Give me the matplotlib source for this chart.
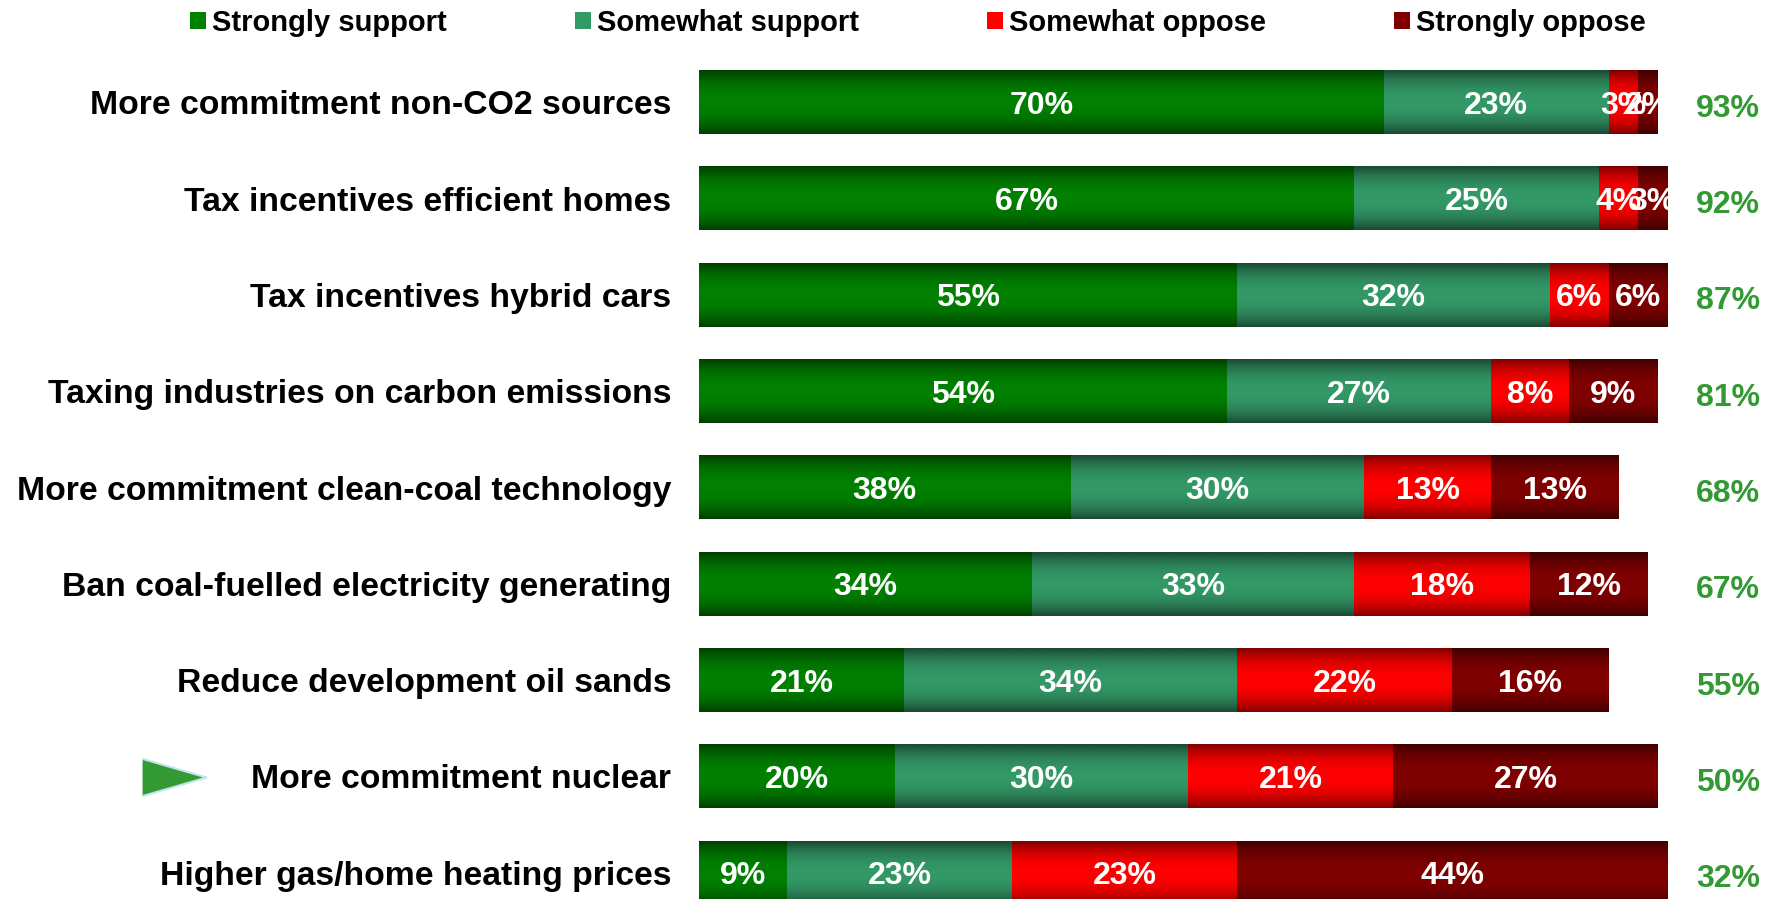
import numpy as np
import matplotlib
matplotlib.use('Agg')
import matplotlib.pyplot as plt
from matplotlib import colors as mcolors
from matplotlib.transforms import blended_transform_factory

plt.rcParams['font.family'] = ['Liberation Sans', 'DejaVu Sans']
plt.rcParams['font.weight'] = 'bold'

categories = ['More commitment non-CO2 sources', 'Tax incentives efficient homes',
              'Tax incentives hybrid cars', 'Taxing industries on carbon emissions',
              'More commitment clean-coal technology', 'Ban coal-fuelled electricity generating',
              'Reduce development oil sands', 'More commitment nuclear',
              'Higher gas/home heating prices']
series = ['Strongly support', 'Somewhat support', 'Somewhat oppose', 'Strongly oppose']
strongly_support = [70, 67, 55, 54, 38, 34, 21, 20, 9]
somewhat_support = [23, 25, 32, 27, 30, 33, 34, 30, 23]
somewhat_oppose = [3, 4, 6, 8, 13, 18, 22, 21, 23]
strongly_oppose = [2, 3, 6, 9, 13, 12, 16, 27, 44]
total_support = [93, 92, 87, 81, 68, 67, 55, 50, 32]
highlight = 'More commitment nuclear'

# (bright centre, dark edge) for each series
shades = [('#008000', '#004000'), ('#339966', '#1a4a33'),
          ('#ff0000', '#800000'), ('#800000', '#400000')]

fig = plt.figure(figsize=(17.83, 8.99), dpi=100)
ax = fig.add_axes([699 / 1783, -22 / 899, 978 / 1783, 867 / 899])

y = np.arange(len(categories))
t = np.linspace(0, 1, 64)
prof = 1 - np.abs(2 * t - 1) ** 2.2

left = np.zeros(len(categories))
for name, vals, (bright, dark) in zip(series,
                                      [strongly_support, somewhat_support, somewhat_oppose, strongly_oppose],
                                      shades):
    bars = ax.barh(y, vals, left=left, height=0.66, color=bright, label=name, zorder=1)
    b = np.array(mcolors.to_rgb(bright))
    d = np.array(mcolors.to_rgb(dark))
    grad = (d + prof[:, None] * (b - d))[:, None, :]
    for p, v in zip(bars.patches, vals):
        x0, y0 = p.get_x(), p.get_y()
        ax.imshow(grad, extent=(x0, x0 + p.get_width(), y0, y0 + p.get_height()),
                  aspect='auto', interpolation='bilinear', zorder=2)
        ax.text(x0 + p.get_width() / 2, y0 + p.get_height() / 2, f'{v}%',
                ha='center', va='center_baseline', color='white', fontsize=23,
                fontweight='bold', zorder=3)
    left += np.array(vals)

for yi, tot in zip(y, total_support):
    ax.text(105.2, yi + 0.03, f'{tot}%', ha='center', va='center_baseline', color='#339933',
            fontsize=23, fontweight='bold', clip_on=False)

# green pointer next to the highlighted row
tr = blended_transform_factory(ax.transAxes, ax.transData)
ax.plot([-0.537], [categories.index(highlight)], transform=tr, clip_on=False,
        marker=[(-1, -0.58), (1, 0), (-1, 0.58)], markersize=46,
        color='#339933', markeredgecolor='#bfe4ea', markeredgewidth=1.5)

ax.set_xlim(0, 100)
ax.set_ylim(len(categories) - 0.5, -0.5)
ax.set_yticks(y)
ax.set_yticklabels(categories, fontsize=24.3, fontweight='bold')
ax.tick_params(axis='y', length=0, pad=20)
ax.set_xticks([])
for s in ax.spines.values():
    s.set_visible(False)

fig.legend(loc='center', bbox_to_anchor=(918 / 1783, 1 - 23 / 899), ncol=4,
           frameon=False, fontsize=21, handlelength=0.55, handleheight=0.55,
           handletextpad=0.2, columnspacing=4.4, borderpad=0)

fig.savefig('out.png', dpi=100)
